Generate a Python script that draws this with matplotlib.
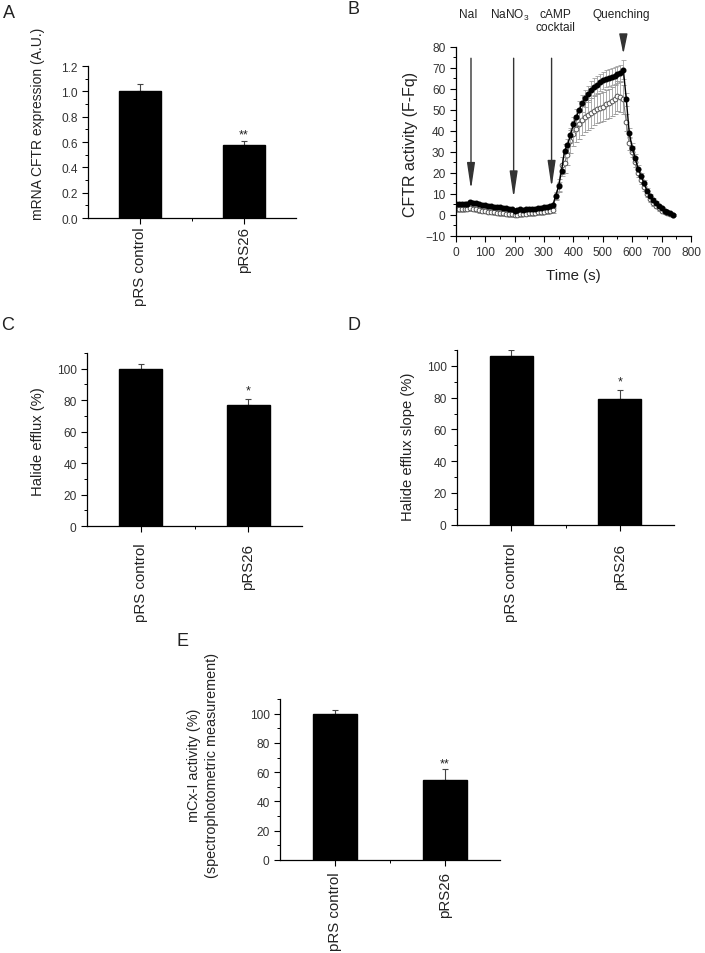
import matplotlib
matplotlib.use('Agg')
import matplotlib.pyplot as plt
import numpy as np
from matplotlib.ticker import MultipleLocator, FixedLocator, FormatStrFormatter

plt.rcParams['font.family'] = ['Liberation Sans', 'DejaVu Sans']
plt.rcParams['mathtext.fontset'] = 'custom'
plt.rcParams['mathtext.rm'] = 'Liberation Sans'
plt.rcParams['axes.linewidth'] = 0.9

# ---------------- data ----------------
categories = ['pRS control', 'pRS26']

mrna_vals = [1.00, 0.58]
mrna_errs = [0.06, 0.03]

efflux_vals = [100, 77]
efflux_errs = [3, 4]

slope_vals = [106, 79]
slope_errs = [4, 6]

cx_vals = [100, 55]
cx_errs = [2.5, 7]

time_s = [0, 10, 20, 30, 40, 50, 60, 70, 80, 90, 100, 110, 120, 130, 140, 150, 160,
          170, 180, 190, 200, 210, 220, 230, 240, 250, 260, 270, 280, 290, 300, 310,
          320, 330, 340, 350, 360, 370, 380, 390, 400, 410, 420, 430, 440, 450, 460,
          470, 480, 490, 500, 510, 520, 530, 540, 550, 560, 570, 580, 590, 600, 610,
          620, 630, 640, 650, 660, 670, 680, 690, 700, 710, 720, 730, 740]

ctrl_vals = [5.0, 5.0, 5.0, 5.2, 5.3, 6.0, 5.8, 5.5, 5.0, 4.8, 4.5, 4.3, 4.0, 3.8, 3.6, 3.5,
             3.2, 3.0, 2.8, 2.5, 2.0, 2.2, 2.5, 2.4, 2.6, 2.7, 2.8, 2.9, 3.0, 3.2, 3.5, 3.8,
             4.2, 4.5,
             9.0, 13.5, 21.0, 30.5, 33.0, 38.0, 43.0, 46.5, 50.0, 53.0, 55.5, 57.5, 59.5,
             61.0, 62.0, 63.0, 64.0, 64.8, 65.3, 65.8, 66.2, 66.8, 67.5, 69.0,
             55.0, 39.0, 32.0, 27.0, 22.0, 18.5, 15.0, 11.5, 9.0, 7.0, 5.5, 4.0, 3.0,
             2.0, 1.2, 0.6, 0.0]
ctrl_errs = [0.8] * 34 + [1.5, 2.0, 2.5, 3.0, 3.0, 3.5, 3.5, 4.0, 4.0, 4.0, 4.0, 4.0, 4.0,
                          4.0, 4.0, 4.0, 4.0, 4.0, 4.0, 4.0, 4.0, 4.0, 4.0, 4.5] + \
            [3.0, 2.5, 2.0, 2.0, 1.8, 1.5, 1.5, 1.2, 1.0, 1.0, 0.8, 0.8, 0.6, 0.6, 0.5, 0.5, 0.5]

open_vals = [2.5, 2.6, 2.7, 2.8, 2.8, 3.0, 2.8, 2.5, 2.2, 2.0, 1.8, 1.5, 1.3, 1.2, 1.0, 0.8,
             0.6, 0.5, 0.3, 0.2, 0.0, 0.0, 0.2, 0.4, 0.5, 0.7, 0.8, 1.0, 1.1, 1.2, 1.4, 1.6,
             1.8, 2.2,
             9.0, 14.0, 23.5, 24.5, 28.5, 35.0, 38.5, 41.0, 43.0, 45.0, 46.5, 47.5, 48.5,
             49.5, 50.5, 51.0, 51.5, 52.5, 53.0, 54.0, 55.0, 56.5, 56.0, 55.0,
             44.0, 34.0, 30.0, 25.0, 20.0, 16.5, 13.0, 10.0, 7.5, 5.5, 4.0, 3.0, 2.0,
             1.2, 0.6, 0.2, -0.2]
open_errs = [1.2] * 34 + [2.0, 3.0, 4.0, 4.5, 5.0, 5.5, 6.0, 6.5, 7.0, 7.0, 7.0, 7.0, 7.0,
                          7.0, 7.0, 7.0, 7.0, 7.0, 7.0, 7.0, 7.0, 7.0, 7.0, 7.0] + \
            [4.0, 3.0, 2.5, 2.5, 2.0, 2.0, 1.8, 1.5, 1.5, 1.2, 1.0, 1.0, 0.8, 0.8, 0.6, 0.6, 0.5]

event_labels = ['NaI', 'NaNO$_3$', 'cAMP', 'Quenching']
event_times = [52, 197, 326]
event_tips = [12, 8, 13]
quench_time = 570

# ---------------- figure ----------------
W, H = 705, 954
fig = plt.figure(figsize=(W / 100, H / 100), dpi=100)


def axes_px(l, t, r, b):
    return fig.add_axes([l / W, 1 - b / H, (r - l) / W, (b - t) / H])


TICK_COL = '#333333'


def style_axes(ax):
    ax.spines['top'].set_visible(False)
    ax.spines['right'].set_visible(False)
    ax.tick_params(which='major', direction='out', length=4, width=0.8,
                   labelsize=8.6, labelcolor=TICK_COL)
    ax.tick_params(which='minor', direction='out', length=2.2, width=0.7)


def bar_panel(ax, vals, errs, ymax, major, minor, fmt, ylabel, ylab_pos,
              stars, star_y, pad, ylabsize):
    x = np.arange(len(categories))
    ax.bar(x, vals, width=0.4, color='black', edgecolor='black', zorder=2)
    ax.errorbar(x, vals, yerr=[np.zeros(len(vals)), errs], fmt='none',
                ecolor='#444444', elinewidth=0.8, capsize=2.5, capthick=0.8, zorder=1)
    ax.set_xlim(-0.5, 1.5)
    ax.set_ylim(0, ymax)
    style_axes(ax)
    ax.set_xticks(x)
    ax.set_xticklabels(categories, rotation=90, fontsize=10.8, color='#222222')
    ax.xaxis.set_minor_locator(FixedLocator([0.5]))
    ax.tick_params(axis='x', which='major', pad=pad)
    ax.yaxis.set_major_locator(MultipleLocator(major))
    ax.yaxis.set_minor_locator(MultipleLocator(minor))
    ax.yaxis.set_major_formatter(FormatStrFormatter(fmt))
    ax.set_ylabel(ylabel, fontsize=ylabsize, color='#222222', linespacing=1.3)
    ax.yaxis.set_label_coords(*ylab_pos)
    ax.text(1, star_y, stars, ha='center', va='center', fontsize=9, color='#222222')


# A
axA = axes_px(88, 67, 296, 219)
bar_panel(axA, mrna_vals, mrna_errs, 1.2, 0.2, 0.1, '%.1f',
          'mRNA CFTR expression (A.U.)', (-0.207, 0.625), '**', 0.66, 2, 10)

# C
axC = axes_px(87, 354, 302, 527)
bar_panel(axC, efflux_vals, efflux_errs, 110, 20, 10, '%d',
          'Halide efflux (%)', (-0.195, 0.493), '*', 86, 8, 10.6)

# D
axD = axes_px(457, 351, 674, 525.7)
bar_panel(axD, slope_vals, slope_errs, 110, 20, 10, '%d',
          'Halide efflux slope (%)', (-0.194, 0.452), '*', 90, 9, 10.6)

# E
axE = axes_px(280, 700, 500, 861)
bar_panel(axE, cx_vals, cx_errs, 110, 20, 10, '%d',
          'mCx-I activity (%)\n(spectrophotometric measurement)', (-0.279, 0.596),
          '**', 66, 4, 10.4)

# B
axB = axes_px(455.7, 47.7, 691, 236.7)
style_axes(axB)
axB.errorbar(time_s, open_vals, yerr=open_errs, fmt='o-', color='#777777',
             mfc='white', mec='#555555', mew=0.7, ms=3.4, lw=0.8,
             ecolor='#a0a0a0', elinewidth=0.6, capsize=1.8, capthick=0.6, zorder=2)
axB.errorbar(time_s, ctrl_vals, yerr=ctrl_errs, fmt='o-', color='black',
             mfc='black', mec='black', ms=3.3, lw=1.0,
             ecolor='#a0a0a0', elinewidth=0.6, capsize=1.8, capthick=0.6, zorder=3)
axB.set_xlim(0, 800)
axB.set_ylim(-10, 80)
axB.xaxis.set_major_locator(MultipleLocator(100))
axB.xaxis.set_minor_locator(MultipleLocator(50))
axB.yaxis.set_major_locator(MultipleLocator(10))
axB.yaxis.set_minor_locator(MultipleLocator(5))
axB.set_ylabel('CFTR activity (F-Fq)', fontsize=11.5, color='#222222')
axB.yaxis.set_label_coords(-0.16, 0.49)
axB.set_xlabel('Time (s)', fontsize=10.8, color='#222222')
axB.xaxis.set_label_coords(0.5, -0.171)

arrow_style = '-|>,head_length=1.6,head_width=0.24'
for t, tip in zip(event_times, event_tips):
    axB.annotate('', xy=(t, tip), xytext=(t, 74.5),
                 arrowprops=dict(arrowstyle=arrow_style, color='#333333', lw=1.0,
                                 mutation_scale=10, shrinkA=0, shrinkB=0), zorder=4)
axB.annotate('', xy=(quench_time, 76.5), xytext=(quench_time, 85),
             arrowprops=dict(arrowstyle='-|>,head_length=1.2,head_width=0.25',
                             color='#333333', lw=1.0, mutation_scale=10,
                             shrinkA=0, shrinkB=0),
             annotation_clip=False, zorder=4)


def ftext(x, y, s, **kw):
    fig.text(x / W, 1 - y / H, s, ha='center', va='center', color='#222222', **kw)


ftext(468.7, 15, event_labels[0], fontsize=8.6)
ftext(510, 15, event_labels[1], fontsize=8.6)
ftext(555, 15, event_labels[2], fontsize=8.6)
ftext(555, 28, 'cocktail', fontsize=8.6)
ftext(621.7, 15, event_labels[3], fontsize=8.6)

# panel letters
for letter, (x, y) in zip('ABCDE', [(9, 13.5), (354, 10), (8, 326), (354, 326), (183, 641)]):
    ftext(x, y, letter, fontsize=13)

fig.savefig('out.png', dpi=100)
